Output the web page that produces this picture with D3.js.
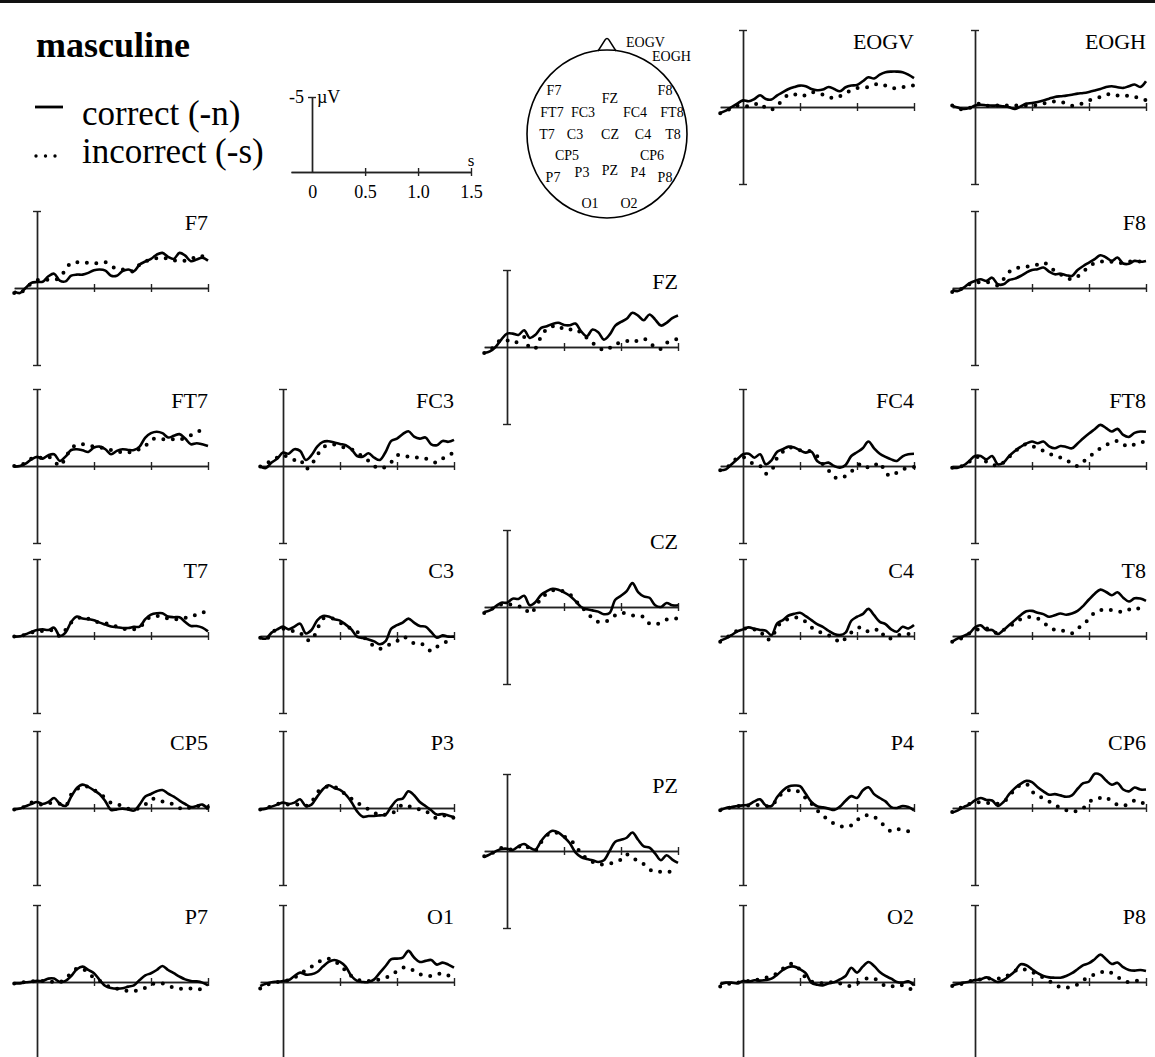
<!DOCTYPE html>
<html><head><meta charset="utf-8">
<script src="https://cdn.jsdelivr.net/npm/d3@7"></script>
<style>body{margin:0;background:#fff}svg{display:block}</style>
</head><body><svg id="c" width="1155" height="1057"></svg>
<script>
// time samples (s), every 0.05 s from -0.2 to 1.5
const times = d3.range(35).map(i => +(-0.2 + i * 0.05).toFixed(2));
const xTicks = [0.5, 1.0, 1.5];
const scaleTickLabels = ["0", "0.5", "1.0", "1.5"];
const legendLabels = ["correct (-n)", "incorrect (-s)"];
const title = "masculine";

// amplitudes in µV (negative plotted up); _c = correct (-n), _i = incorrect (-s)
const EOGV_c = [0.39,0.24,0,-0.22,-0.43,-0.37,-0.52,-0.76,-0.52,-0.48,-0.76,-0.96,-1.17,-1.3,-1.39,-1.35,-1.17,-1.09,-1.13,-1.3,-1.17,-1.02,-1.28,-1.39,-1.43,-1.67,-1.93,-1.85,-2.1,-2.26,-2.3,-2.3,-2.26,-2.1,-1.87];
const EOGV_i = [0.4,0.28,0.07,-0.09,-0.09,-0.04,-0.15,-0.26,0.07,0.17,-0.09,-0.48,-0.8,-0.83,-0.7,-0.78,-0.96,-0.91,-0.8,-0.65,-0.57,-0.7,-0.91,-1.09,-1.22,-1.26,-1.3,-1.43,-1.52,-1.39,-1.24,-1.22,-1.28,-1.39,-1.39];
const EOGH_c = [-0.09,0.04,0.13,0.07,-0.09,-0.15,-0.11,-0.09,-0.09,-0.04,0.02,0.13,-0.04,-0.22,-0.26,-0.33,-0.43,-0.54,-0.65,-0.7,-0.74,-0.8,-0.87,-0.91,-0.98,-1.07,-1.17,-1.3,-1.35,-1.28,-1.24,-1.35,-1.46,-1.3,-1.67];
const EOGH_i = [-0.09,0.09,0.17,0.07,-0.15,-0.22,-0.09,-0.09,-0.09,-0.09,-0.09,-0.09,-0.09,-0.09,-0.09,-0.13,-0.22,-0.3,-0.37,-0.35,-0.22,-0.09,-0.15,-0.26,-0.43,-0.54,-0.65,-0.8,-0.85,-0.74,-0.7,-0.74,-0.65,-0.57,-0.43];
const F7_c = [0.22,0.33,0,-0.33,-0.39,-0.41,-0.76,-0.93,-0.48,-0.43,-0.8,-0.87,-0.87,-0.98,-1.15,-1.2,-1.13,-0.8,-0.8,-1.09,-1.2,-1.09,-1.52,-1.72,-1.89,-2.17,-2.28,-2.02,-1.89,-2.28,-2.1,-1.74,-1.85,-1.96,-1.78];
const F7_i = [0.33,0.37,0,-0.28,-0.5,-0.54,-0.54,-0.54,-0.65,-1.2,-1.63,-1.67,-1.67,-1.63,-1.59,-1.63,-1.67,-1.41,-1.26,-1.2,-1.11,-1.09,-1.52,-1.74,-1.8,-1.93,-1.96,-1.89,-1.8,-1.78,-1.78,-1.85,-2.07,-2.07,-1.85];
const F8_c = [0.13,0.2,-0.02,-0.3,-0.46,-0.57,-0.46,-0.67,-0.24,-0.24,-0.52,-0.61,-0.78,-1.0,-1.17,-1.22,-1.33,-1.07,-0.89,-0.93,-0.83,-0.78,-1.17,-1.43,-1.65,-1.87,-2.13,-1.98,-1.76,-1.98,-1.59,-1.57,-1.76,-1.7,-1.76];
const F8_i = [0.26,0.17,-0.02,-0.24,-0.35,-0.39,-0.39,-0.3,-0.17,-0.57,-1.04,-1.26,-1.35,-1.39,-1.43,-1.52,-1.65,-1.43,-1.11,-0.89,-0.67,-0.57,-0.74,-1.04,-1.43,-1.61,-1.7,-1.74,-1.7,-1.65,-1.61,-1.7,-1.76,-1.72,-1.65];
const FZ_c = [0.39,0.28,0,-0.48,-0.87,-0.87,-0.78,-1.09,-0.59,-0.8,-1.24,-1.35,-1.5,-1.57,-1.43,-1.41,-1.52,-1.02,-0.7,-1.13,-0.96,-0.48,-0.8,-1.39,-1.63,-1.83,-2.22,-2.04,-1.74,-2.11,-1.78,-1.39,-1.57,-1.87,-2.04];
const FZ_i = [0.39,0.22,-0.15,-0.48,-0.43,-0.26,-0.37,-0.65,0.07,0.07,-0.7,-1.17,-1.35,-1.39,-1.13,-1.13,-1.17,-0.91,-0.59,-0.26,0,0.22,0.07,-0.22,-0.26,-0.37,-0.48,-0.37,-0.52,-0.37,0.07,0.13,-0.26,-0.43,-0.52];
const FT7_c = [0.04,0,-0.15,-0.43,-0.59,-0.48,-0.7,-0.76,-0.33,-0.61,-1.04,-1.09,-1.02,-0.91,-1.2,-1.26,-1.09,-0.76,-0.98,-1.09,-1.04,-1.04,-1.26,-1.85,-2.13,-2.22,-2.13,-1.85,-1.96,-2.07,-1.78,-1.41,-1.48,-1.41,-1.3];
const FT7_i = [0,-0.02,-0.22,-0.48,-0.52,-0.54,-0.61,-0.33,0,-0.54,-1.13,-1.39,-1.41,-1.35,-1.26,-1.22,-1.13,-1.04,-0.96,-0.87,-0.87,-1.0,-1.09,-1.3,-1.7,-1.78,-1.74,-1.74,-1.74,-1.7,-1.85,-2.0,-2.13,-2.39,-2.35];
const FC3_c = [0.04,0.13,-0.22,-0.48,-0.87,-0.8,-1.09,-0.98,-0.39,-0.7,-1.26,-1.57,-1.61,-1.52,-1.43,-1.35,-1.09,-0.65,-0.61,-0.83,-0.54,-0.39,-0.91,-1.63,-1.78,-2.07,-2.26,-1.91,-1.78,-1.85,-1.41,-1.35,-1.63,-1.57,-1.7];
const FC3_i = [0.04,-0.11,-0.39,-0.54,-0.7,-0.54,-0.39,-0.43,0.2,-0.11,-0.7,-1.2,-1.35,-1.39,-1.3,-1.17,-1.09,-0.83,-0.61,-0.33,0,0.17,0.04,-0.26,-0.7,-0.7,-0.61,-0.57,-0.54,-0.48,-0.35,-0.22,-0.48,-0.7,-0.87];
const FC4_c = [0.28,0.22,-0.11,-0.43,-0.76,-0.8,-0.54,-0.76,-0.11,-0.37,-0.93,-1.09,-1.26,-1.2,-1.02,-0.87,-0.93,-0.33,-0.15,-0.22,0,0.11,-0.07,-0.65,-0.89,-1.15,-1.59,-1.15,-0.8,-0.59,-0.43,-0.33,-0.63,-0.76,-0.8];
const FC4_i = [0.28,0.17,-0.22,-0.5,-0.59,-0.33,-0.11,0,0.5,0.28,-0.54,-0.93,-1.2,-1.15,-1.02,-1.02,-0.93,-0.65,-0.11,0.28,0.72,0.8,0.65,0.37,0,-0.15,0.11,0,-0.22,0.43,0.65,0.43,0.22,0.11,0.07];
const FT8_c = [0.11,0.11,-0.04,-0.33,-0.65,-0.65,-0.43,-0.65,-0.11,-0.22,-0.65,-0.98,-1.24,-1.46,-1.59,-1.48,-1.59,-1.28,-1.15,-1.3,-1.24,-1.15,-1.46,-1.8,-2.11,-2.39,-2.67,-2.46,-2.24,-2.41,-2.02,-1.89,-2.15,-2.24,-2.22];
const FT8_i = [0.11,0.07,-0.04,-0.28,-0.59,-0.5,-0.28,-0.11,0,-0.22,-0.59,-0.93,-1.24,-1.41,-1.3,-1.15,-0.98,-0.8,-0.65,-0.54,-0.43,-0.11,0,-0.28,-0.59,-0.87,-1.15,-1.37,-1.5,-1.63,-1.41,-1.26,-1.41,-1.52,-1.59];
const T7_c = [0.04,0.02,-0.11,-0.26,-0.39,-0.43,-0.39,-0.54,0,-0.22,-0.91,-1.26,-1.13,-1.09,-1.02,-0.87,-0.74,-0.61,-0.57,-0.52,-0.52,-0.59,-0.61,-1.09,-1.39,-1.48,-1.48,-1.26,-1.22,-1.22,-0.91,-0.65,-0.65,-0.54,-0.3];
const T7_i = [0.04,0.04,-0.11,-0.22,-0.28,-0.33,-0.39,-0.33,0,-0.39,-0.87,-1.09,-1.26,-1.13,-0.96,-0.87,-0.83,-0.7,-0.61,-0.48,-0.43,-0.43,-0.54,-0.98,-1.26,-1.3,-1.26,-1.13,-1.09,-1.09,-1.17,-1.26,-1.39,-1.52,-1.57];
const C3_c = [0.11,0.17,-0.22,-0.43,-0.61,-0.43,-0.61,-0.8,-0.17,-0.39,-1.02,-1.3,-1.26,-1.09,-1.0,-0.74,-0.43,0.04,0.13,0.22,0.35,0.54,0.33,-0.48,-0.7,-0.87,-1.13,-0.87,-0.65,-0.61,-0.26,0.11,-0.04,0.04,0.04];
const C3_i = [0.11,0.26,-0.22,-0.43,-0.48,-0.39,-0.3,-0.22,0.22,0.26,-0.43,-1.13,-1.2,-1.09,-0.87,-0.65,-0.48,-0.26,0,0.39,0.65,0.83,0.7,0.48,0.33,0.04,0.22,0.48,0.48,0.65,0.98,0.7,0.48,0.33,0.22];
const CZ_c = [0.32,0.22,-0.04,-0.28,-0.28,-0.54,-0.52,-0.73,-0.11,-0.32,-0.8,-1.03,-1.18,-1.12,-0.95,-0.73,-0.39,0,0.15,0.22,0.3,0.47,0.39,-0.47,-0.73,-1.03,-1.55,-0.97,-0.69,-0.6,-0.11,0,-0.26,-0.11,-0.11];
const CZ_i = [0.39,0.22,-0.04,-0.17,-0.22,-0.11,-0.04,0,0.43,0.04,-0.6,-0.86,-1.08,-1.12,-0.99,-0.82,-0.43,0,0.32,0.75,0.97,0.99,0.82,0.54,0.39,0.43,0.54,0.6,0.65,1.08,1.12,1.03,0.82,0.75,0.75];
const C4_c = [0.3,0.15,-0.06,-0.3,-0.43,-0.56,-0.47,-0.39,-0.35,-0.05,-0.82,-1.03,-1.33,-1.44,-1.51,-1.29,-1.03,-0.77,-0.6,-0.34,-0.13,-0.06,-0.22,-0.99,-1.25,-1.42,-1.76,-1.35,-0.92,-0.77,-0.43,-0.28,-0.6,-0.49,-0.71];
const C4_i = [0.37,0.15,-0.13,-0.34,-0.47,-0.49,-0.43,-0.34,0.22,0.15,-0.6,-0.92,-1.12,-1.2,-1.14,-0.92,-0.56,-0.34,-0.17,-0.04,0.09,0.43,0.15,-0.22,-0.49,-0.56,-0.28,-0.34,-0.43,0.15,0.15,0,-0.13,-0.13,-0.13];
const T8_c = [0.37,0.15,0,-0.17,-0.56,-0.69,-0.39,-0.39,-0.13,-0.39,-0.71,-1.03,-1.35,-1.61,-1.63,-1.51,-1.42,-1.25,-1.35,-1.46,-1.38,-1.46,-1.63,-1.96,-2.37,-2.75,-3.01,-2.86,-2.65,-2.84,-2.49,-2.24,-2.45,-2.43,-2.28];
const T8_i = [0.37,0.22,0.09,-0.17,-0.39,-0.43,-0.49,-0.34,-0.17,-0.39,-0.6,-0.86,-1.08,-1.2,-1.25,-1.14,-0.92,-0.55,-0.41,-0.39,-0.26,-0.17,-0.5,-0.71,-1.14,-1.51,-1.68,-1.72,-1.68,-1.61,-1.57,-1.72,-1.85,-1.72,-1.57];
const CP5_c = [0.09,0.04,-0.11,-0.26,-0.39,-0.26,-0.39,-0.65,-0.28,-0.13,-0.74,-1.3,-1.52,-1.37,-1.15,-0.89,-0.43,0.13,0.09,0.04,0.09,0.17,-0.22,-0.74,-0.91,-1.09,-1.17,-0.93,-0.74,-0.48,-0.26,-0.07,-0.13,-0.22,0.09];
const CP5_i = [0.09,0.04,-0.13,-0.35,-0.26,-0.22,-0.3,-0.35,-0.28,-0.13,-0.87,-1.22,-1.41,-1.37,-1.17,-0.93,-0.65,-0.33,-0.24,-0.13,0.04,0.09,0,-0.22,-0.57,-0.57,-0.43,-0.35,-0.22,0,0.09,-0.07,-0.13,-0.13,-0.07];
const P3_c = [0.09,0.04,-0.09,-0.22,-0.35,-0.26,-0.35,-0.57,-0.13,-0.22,-0.74,-1.22,-1.48,-1.3,-1.17,-0.87,-0.39,0.22,0.57,0.52,0.52,0.48,0.43,-0.09,-0.52,-0.61,-1.09,-0.83,-0.39,-0.13,0.15,0.43,0.39,0.48,0.59];
const P3_i = [0.09,0,-0.11,-0.26,-0.26,-0.22,-0.22,-0.22,-0.13,-0.39,-1.0,-1.3,-1.39,-1.37,-1.15,-0.87,-0.61,-0.35,-0.13,0.09,0.3,0.48,0.43,0.37,0.09,-0.22,-0.13,0,0.09,0.17,0.48,0.65,0.52,0.48,0.65];
const PZ_c = [0.39,0.22,0.02,-0.13,-0.15,-0.06,-0.3,-0.45,-0.22,-0.09,-0.65,-1.08,-1.31,-1.2,-0.9,-0.52,0.09,0.39,0.52,0.6,0.71,0.6,0,-0.6,-0.73,-0.86,-1.2,-0.73,-0.3,-0.22,0.17,0.6,0.28,0.56,0.77];
const PZ_i = [0.34,0.22,0,-0.19,-0.17,-0.09,-0.26,-0.41,-0.15,-0.04,-0.58,-1.01,-1.2,-1.16,-0.95,-0.73,-0.39,0.17,0.49,0.71,0.86,0.86,0.82,0.73,0.56,0.22,0.39,0.71,0.86,1.2,1.35,1.35,1.35,1.35,1.35];
const P4_c = [0.15,0,-0.06,-0.13,-0.17,-0.22,-0.43,-0.56,-0.17,-0.13,-0.71,-1.14,-1.4,-1.46,-1.42,-0.92,-0.39,-0.11,-0.04,0.04,0.13,-0.09,-0.47,-0.77,-0.65,-1.14,-1.35,-0.9,-0.65,-0.43,-0.06,0,-0.13,-0.06,0.15];
const P4_i = [0.15,0.04,-0.04,-0.11,-0.15,-0.17,-0.22,-0.17,-0.13,-0.13,-0.6,-0.99,-1.14,-1.2,-0.99,-0.65,-0.28,0.15,0.47,0.8,1.01,1.16,1.23,1.12,0.8,0.52,0.47,0.58,0.86,1.23,1.51,1.38,1.44,1.51,1.51];
const CP6_c = [0.3,0.15,-0.06,-0.22,-0.49,-0.65,-0.52,-0.49,-0.13,-0.39,-0.9,-1.29,-1.57,-1.76,-1.68,-1.35,-1.08,-0.86,-0.9,-0.82,-0.73,-0.82,-1.25,-1.61,-1.72,-2.22,-2.15,-1.78,-1.51,-1.63,-1.2,-1.08,-1.33,-1.2,-1.2];
const CP6_i = [0.26,0.09,-0.13,-0.26,-0.32,-0.39,-0.34,-0.28,-0.28,-0.39,-0.77,-1.2,-1.5,-1.57,-1.08,-0.77,-0.65,-0.43,-0.22,0,0.15,0.26,0.17,0,-0.39,-0.6,-0.65,-0.71,-0.39,-0.22,-0.13,-0.28,-0.49,-0.39,-0.22];
const P7_c = [0.09,0.09,0.02,-0.02,-0.07,-0.07,-0.22,-0.22,0,-0.07,-0.39,-0.83,-1.0,-0.78,-0.57,-0.13,0.26,0.39,0.43,0.41,0.3,0.22,-0.13,-0.43,-0.57,-0.78,-1.04,-0.78,-0.57,-0.35,-0.17,-0.07,-0.04,0.04,0.22];
const P7_i = [0.09,0.04,0,-0.04,-0.04,-0.07,-0.04,0,0,-0.22,-0.57,-0.87,-0.87,-0.57,-0.28,-0.07,0.15,0.37,0.43,0.48,0.59,0.59,0.52,0.37,0.15,0.11,0.09,0.22,0.37,0.43,0.43,0.43,0.43,0.52,0.65];
const O1_c = [0.26,0.11,0.02,-0.02,-0.07,-0.13,-0.39,-0.61,-0.48,-0.5,-0.65,-1.0,-1.3,-1.43,-1.3,-1.0,-0.39,-0.07,0,0,-0.17,-0.61,-1.04,-1.48,-1.52,-1.59,-2.02,-1.59,-1.3,-1.37,-1.43,-1.13,-1.26,-1.13,-0.93];
const O1_i = [0.43,0.22,0.09,0,-0.04,-0.13,-0.28,-0.5,-0.78,-1.0,-1.26,-1.43,-1.52,-1.3,-1.15,-0.72,-0.39,-0.17,-0.07,-0.07,-0.11,-0.17,-0.28,-0.43,-0.72,-0.93,-0.93,-0.72,-0.5,-0.43,-0.39,-0.48,-0.57,-0.43,-0.35];
const O2_c = [0.15,0.04,0.04,0.09,-0.07,-0.02,-0.11,-0.09,-0.13,-0.22,-0.48,-0.78,-0.98,-1.0,-0.83,-0.57,0.04,0.17,0.22,0.09,0.02,-0.17,-0.39,-0.93,-0.61,-1.0,-1.3,-1.04,-0.65,-0.39,-0.22,0,0.04,-0.04,0.22];
const O2_i = [0.3,0.15,0.09,0.04,0,-0.07,-0.13,-0.17,-0.28,-0.39,-0.57,-0.87,-1.15,-1.15,-0.78,-0.28,-0.04,0.04,0.09,0.04,0,0.09,0.22,0.26,0.09,-0.13,-0.26,-0.22,0,0.26,0.3,0.17,0.22,0.37,0.59];
const P8_c = [0.22,0.13,0.04,-0.02,-0.13,-0.17,-0.3,-0.17,0,-0.13,-0.39,-0.7,-1.15,-1.09,-0.83,-0.57,-0.39,-0.3,-0.28,-0.28,-0.39,-0.57,-0.83,-1.09,-1.22,-1.48,-1.78,-1.48,-1.17,-1.26,-0.96,-0.78,-0.74,-0.78,-0.72];
const P8_i = [0.26,0.17,0.09,-0.04,-0.13,-0.17,-0.22,-0.22,-0.22,-0.28,-0.48,-0.72,-0.87,-0.78,-0.65,-0.43,-0.28,-0.07,0.15,0.35,0.37,0.3,0.15,-0.13,-0.28,-0.5,-0.61,-0.72,-0.57,-0.35,-0.07,0,-0.07,-0.07,0];

// head-map electrode labels
const headLabels = ["F7","FZ","F8","FT7","FC3","FC4","FT8","T7","C3","CZ","C4","T8","CP5","CP6","P7","P3","PZ","P4","P8","O1","O2"];

// ---------- layout (positions only) ----------
const colX = [37, 283, 507, 743, 975];
const panels = [
  ["EOGV",3,107,EOGV_c,EOGV_i],["EOGH",4,107,EOGH_c,EOGH_i],
  ["F7",0,288,F7_c,F7_i],["F8",4,288,F8_c,F8_i],["FZ",2,347,FZ_c,FZ_i],
  ["FT7",0,466,FT7_c,FT7_i],["FC3",1,466,FC3_c,FC3_i],["FC4",3,466,FC4_c,FC4_i],["FT8",4,466,FT8_c,FT8_i],
  ["T7",0,636,T7_c,T7_i],["C3",1,636,C3_c,C3_i],["CZ",2,607,CZ_c,CZ_i],["C4",3,636,C4_c,C4_i],["T8",4,636,T8_c,T8_i],
  ["CP5",0,808,CP5_c,CP5_i],["P3",1,808,P3_c,P3_i],["PZ",2,851,PZ_c,PZ_i],["P4",3,808,P4_c,P4_i],["CP6",4,808,CP6_c,CP6_i],
  ["P7",0,982,P7_c,P7_i],["O1",1,982,O1_c,O1_i],["O2",3,982,O2_c,O2_i],["P8",4,982,P8_c,P8_i]
];
const headPos = {F7:[554,90],FZ:[610,98],F8:[665,90],FT7:[552,112],FC3:[583,112],FC4:[635,112],FT8:[672,112],
  T7:[547,134],C3:[575,134],CZ:[610,134],C4:[643,134],T8:[673,134],CP5:[567,155],CP6:[652,155],
  P7:[553,177],P3:[582,172],PZ:[610,170],P4:[638,172],P8:[665,177],O1:[590,203],O2:[629,203]};

const SERIF = "'Liberation Serif','Times New Roman',Times,serif";
const INK = "#000";
const svg = d3.select("#c");
svg.append("rect").attr("width",1155).attr("height",1057).attr("fill","#fff");
svg.append("line").attr("x1",0).attr("x2",1155).attr("y1",1.5).attr("y2",1.5).attr("stroke","#111").attr("stroke-width",3);

function styleAxis(sel){ sel.selectAll(".domain,.tick line").attr("stroke","#222").attr("stroke-width",1.4); }

function drawPanel([name, col, base, corr, inc]) {
  const x0 = colX[col];
  const x = d3.scaleLinear().domain([-0.2, 1.5]).range([x0 - 22.8, x0 + 171]);
  const y = d3.scaleLinear().domain([-5, 5]).range([base - 77, base + 77]);
  const g = svg.append("g");
  const ax = (a) => a.tickValues(xTicks).tickSizeInner(4).tickSizeOuter(0).tickFormat("");
  g.append("g").attr("transform",`translate(0,${base})`).call(ax(d3.axisBottom(x))).call(styleAxis);
  g.append("g").attr("transform",`translate(0,${base})`).call(ax(d3.axisTop(x))).call(styleAxis);
  const ay = (a) => a.tickValues([-5,5]).tickSizeInner(4).tickSizeOuter(0).tickFormat("");
  g.append("g").attr("transform",`translate(${x0},0)`).call(ay(d3.axisLeft(y))).call(styleAxis);
  g.append("g").attr("transform",`translate(${x0},0)`).call(ay(d3.axisRight(y))).call(styleAxis);
  const line = d3.line().x((d,i)=>x(times[i])).y(d=>y(d)).curve(d3.curveCatmullRom.alpha(0.5));
  g.append("path").datum(inc).attr("d",line).attr("fill","none").attr("stroke",INK)
    .attr("stroke-width",4).attr("stroke-linecap","round").attr("stroke-dasharray","0 9.5");
  g.append("path").datum(corr).attr("d",line).attr("fill","none").attr("stroke",INK)
    .attr("stroke-width",2.6).attr("stroke-linejoin","round");
  g.append("text").attr("x",x0+171).attr("y",base-77+19).attr("text-anchor","end")
    .attr("font-family",SERIF).attr("font-size",22).attr("fill",INK).text(name);
}
panels.forEach(drawPanel);

// title + legend
svg.append("text").attr("x",36).attr("y",57).attr("font-family",SERIF).attr("font-weight","bold")
  .attr("font-size",36).attr("fill",INK).text(title);
svg.append("line").attr("x1",35).attr("x2",63).attr("y1",107).attr("y2",107).attr("stroke",INK).attr("stroke-width",2.8);
svg.append("line").attr("x1",36).attr("x2",56.5).attr("y1",156).attr("y2",156).attr("stroke",INK)
  .attr("stroke-width",3.4).attr("stroke-linecap","round").attr("stroke-dasharray","0 9.5");
legendLabels.forEach((t,i)=>svg.append("text").attr("x",82).attr("y",125+i*38).attr("font-family",SERIF)
  .attr("font-size",35).attr("fill",INK).text(t));

// scale panel
{
  const sx = d3.scaleLinear().domain([-0.2,1.5]).range([291,471]);
  const sy = d3.scaleLinear().domain([-5,0]).range([97,172]);
  const g = svg.append("g");
  g.append("g").attr("transform","translate(0,172)").call(d3.axisTop(sx).tickValues(xTicks).tickSizeInner(4).tickSizeOuter(0).tickFormat("")).call(styleAxis);
  const bx = g.append("g").attr("transform","translate(0,172)")
    .call(d3.axisBottom(sx).tickValues([0,0.5,1.0,1.5]).tickSizeInner(4).tickSizeOuter(0).tickFormat((d,i)=>scaleTickLabels[i])).call(styleAxis);
  bx.selectAll(".tick").filter(d=>d===0).select("line").remove();
  bx.selectAll("text").attr("font-family",SERIF).attr("font-size",18).attr("fill",INK).attr("dy","1.05em");
  g.append("g").attr("transform","translate(312,0)")
    .call(d3.axisLeft(sy).tickValues([-5]).tickSizeInner(4).tickSizeOuter(0).tickFormat("")).call(styleAxis);
  g.append("g").attr("transform","translate(312,0)")
    .call(d3.axisRight(sy).tickValues([-5]).tickSizeInner(4).tickSizeOuter(0).tickFormat("")).call(styleAxis);
  g.append("text").attr("x",304).attr("y",103).attr("text-anchor","end").attr("font-family",SERIF).attr("font-size",18).attr("fill",INK).text("-5");
  g.append("text").attr("x",317).attr("y",103).attr("font-family",SERIF).attr("font-size",18).attr("fill",INK).text("µV");
  g.append("text").attr("x",471).attr("y",166).attr("text-anchor","middle").attr("font-family",SERIF).attr("font-size",17).attr("fill",INK).text("s");
}

// head map
{
  const g = svg.append("g");
  g.append("path").attr("d","M598,51 L605,40 Q607,37 609,40 L616,51").attr("fill","none").attr("stroke",INK).attr("stroke-width",1.4);
  g.append("ellipse").attr("cx",607).attr("cy",134).attr("rx",80).attr("ry",84).attr("fill","none").attr("stroke",INK).attr("stroke-width",1.6);
  g.append("text").attr("x",626).attr("y",47).attr("font-family",SERIF).attr("font-size",14).attr("fill",INK).text("EOGV");
  g.append("text").attr("x",652).attr("y",61).attr("font-family",SERIF).attr("font-size",14).attr("fill",INK).text("EOGH");
  headLabels.forEach(n=>{
    const [hx,hy]=headPos[n];
    g.append("text").attr("x",hx).attr("y",hy).attr("text-anchor","middle").attr("dy","0.35em")
      .attr("font-family",SERIF).attr("font-size",14).attr("fill",INK).text(n);
  });
}
</script></body></html>
